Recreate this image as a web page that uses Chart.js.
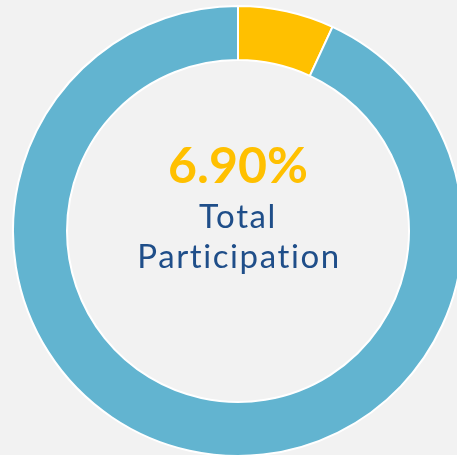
<!DOCTYPE html>
<html>
<head>
<meta charset="utf-8">
<script src="https://cdn.jsdelivr.net/npm/chart.js@4"></script>
<style>
  html, body { margin: 0; padding: 0; background: #F2F2F2; overflow: hidden; width: 457px; height: 455px; }
  #wrap { position: absolute; left: 12px; top: 5px; }
</style>
</head>
<body>
<div id="wrap"><canvas id="chart" width="452" height="452"></canvas></div>
<script>
const labels = ['Participating', 'Not participating'];
const values = [6.9, 93.1];
const colors = ['#FFC000', '#62B4D0'];
const headline = '6.90%';
const subLines = ['Total', 'Participation'];

// center text
const centerText = {
  id: 'centerText',
  afterDraw(chart) {
    const ctx = chart.ctx;
    const meta = chart.getDatasetMeta(0).data[0];
    const cx = meta.x, cy = meta.y;
    ctx.save();
    ctx.textAlign = 'center';
    ctx.textBaseline = 'alphabetic';
    ctx.fillStyle = '#FFC000';
    ctx.font = 'bold 50px Lato';
    ctx.letterSpacing = '0px';
    ctx.fillText(headline, cx, cy - 48);
    ctx.fillStyle = '#1F4E89';
    ctx.font = '33px Lato';
    ctx.letterSpacing = '1.6px';
    ctx.fillText(subLines[0], cx, cy - 3);
    ctx.fillText(subLines[1], cx + 1, cy + 37);
    ctx.restore();
  }
};

new Chart(document.getElementById('chart').getContext('2d'), {
  type: 'doughnut',
  data: {
    labels: labels,
    datasets: [{
      data: values,
      backgroundColor: colors,
      borderColor: '#FFFFFF',
      borderWidth: 2
    }]
  },
  options: {
    responsive: false,
    animation: false,
    cutout: '76%',
    plugins: {
      legend: { display: false },
      tooltip: { enabled: false }
    }
  },
  plugins: [centerText]
});
</script>
</body>
</html>
